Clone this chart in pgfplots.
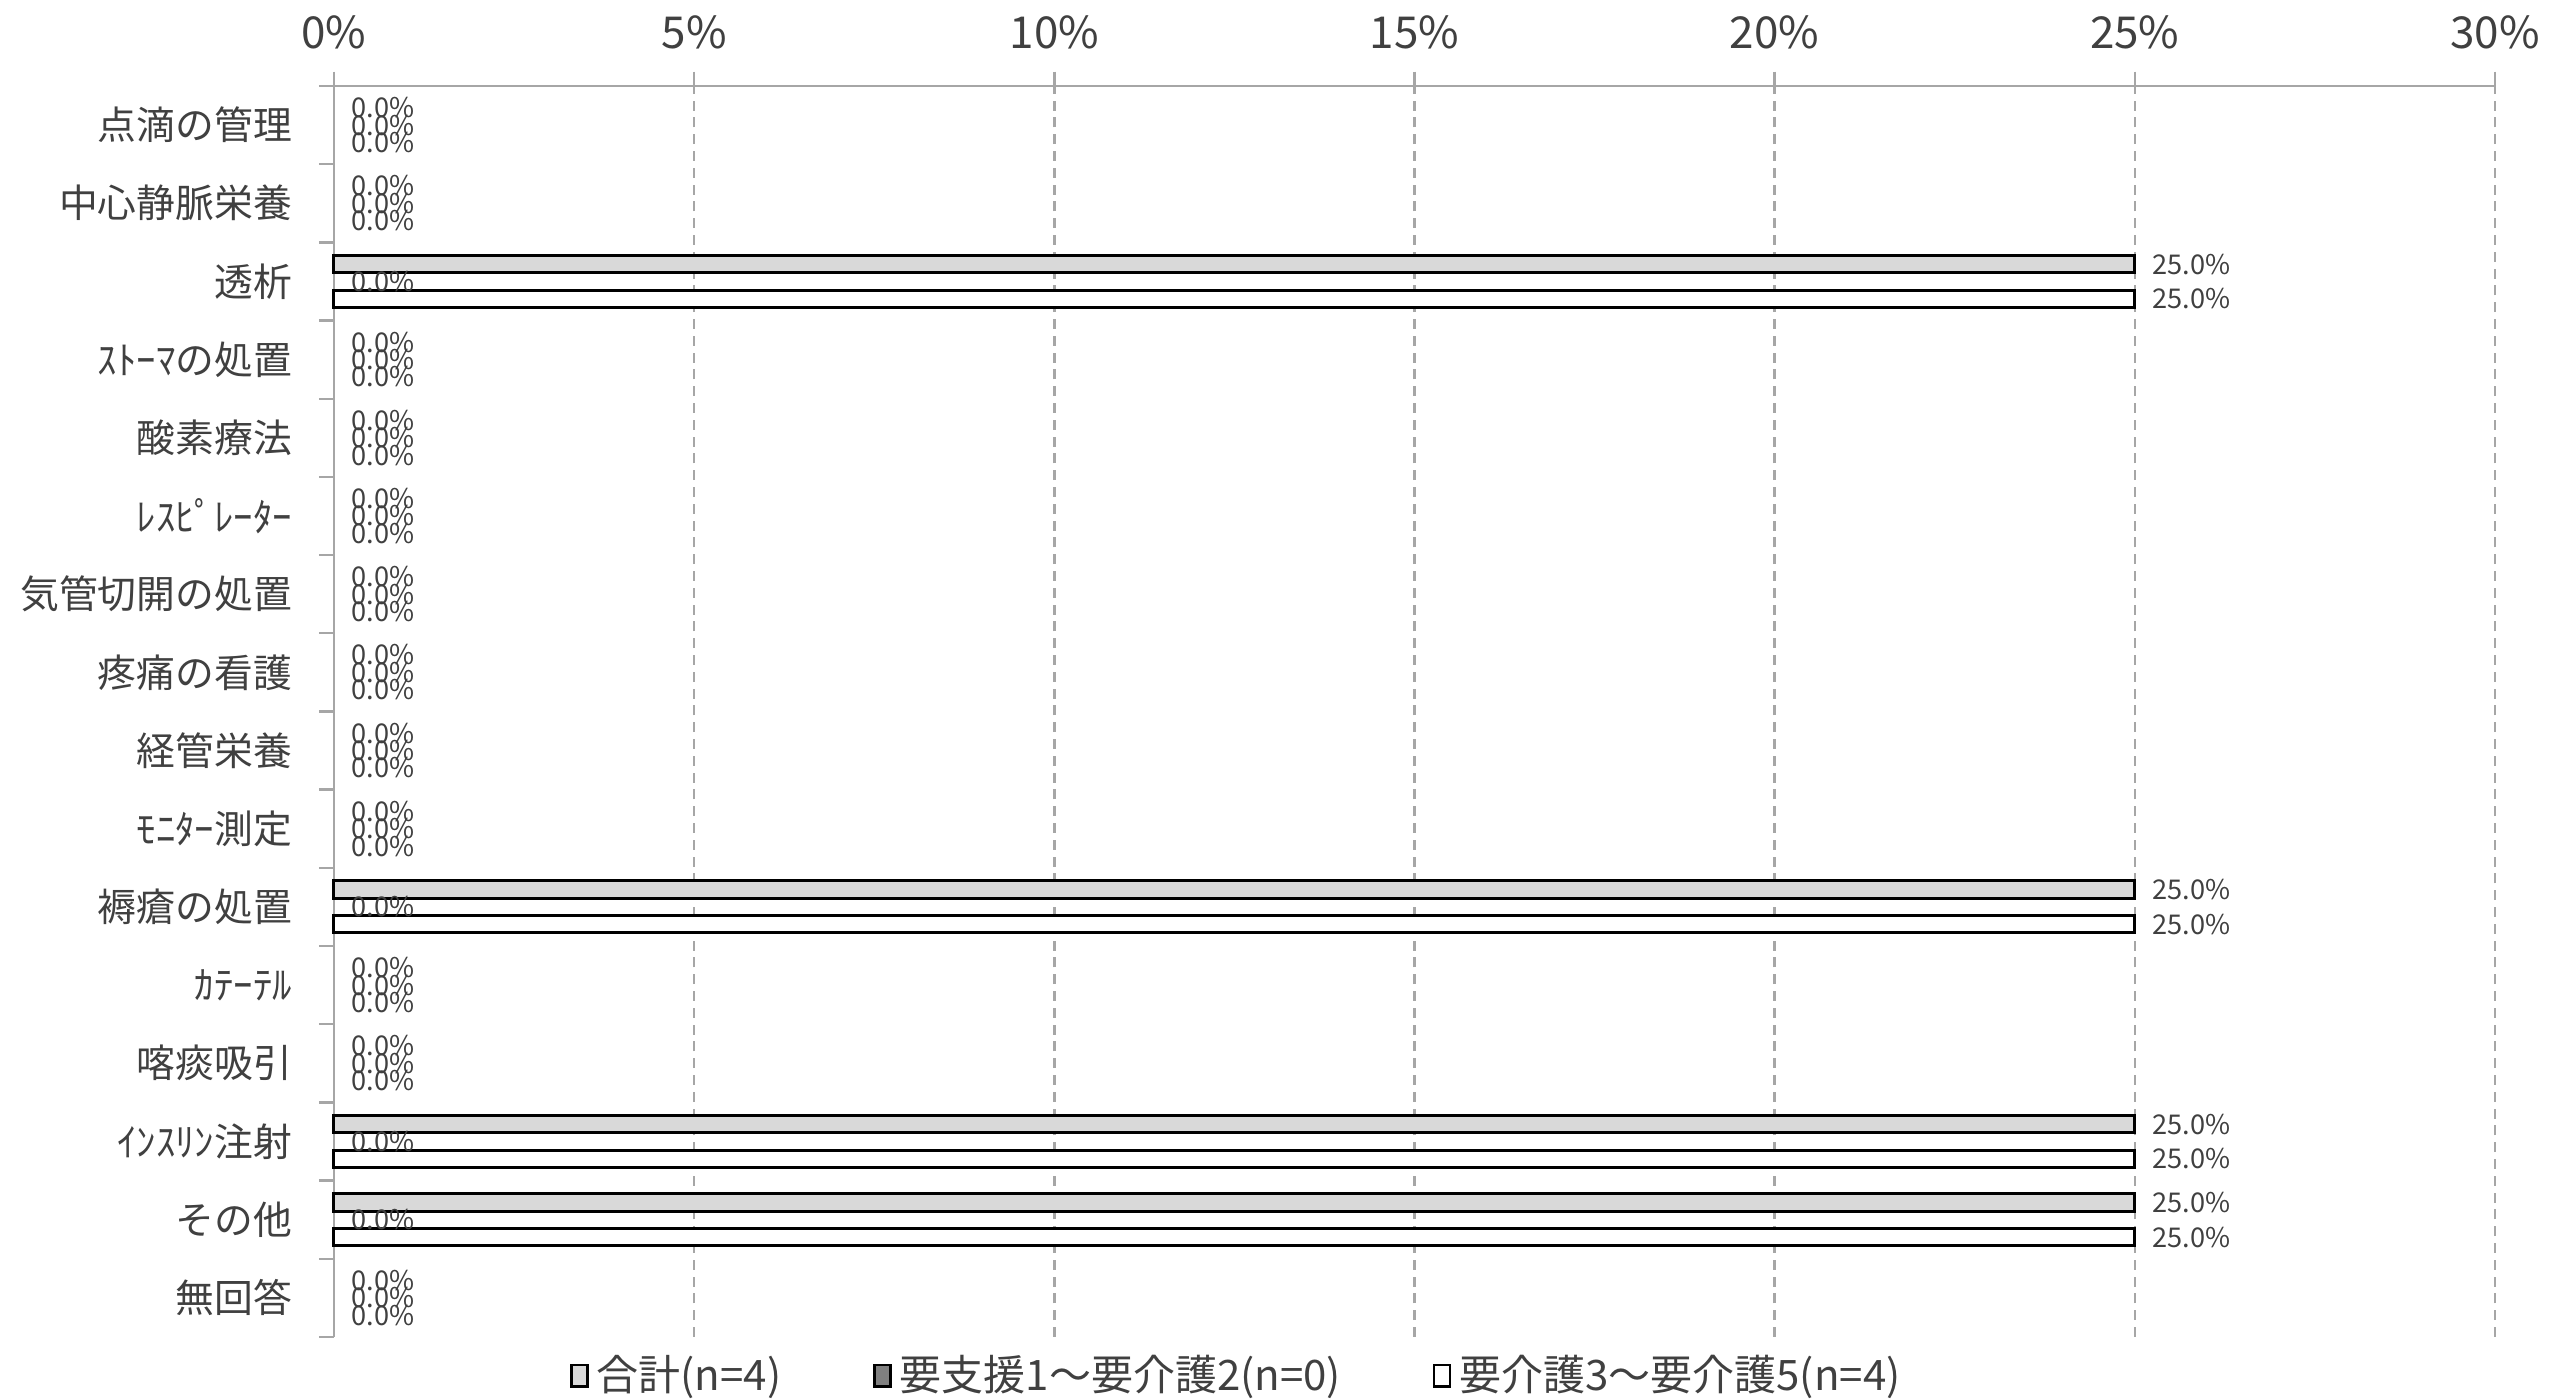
\documentclass[border=0pt]{standalone}
\usepackage{fontspec}
\setmainfont{Noto Sans CJK JP}
\usepackage{pgfplots}
\pgfplotsset{compat=1.18}
\usepackage{pgfplotstable}

\definecolor{txt}{HTML}{404040}
\definecolor{axisgray}{HTML}{A6A6A6}
\definecolor{totalfill}{HTML}{D9D9D9}
\definecolor{shienfill}{HTML}{808080}

% pos: 15 = top category (点滴の管理) ... 0 = bottom (無回答)
\pgfplotstableread{
pos total shien kaigo
15 0 0 0
14 0 0 0
13 25 0 25
12 0 0 0
11 0 0 0
10 0 0 0
9 0 0 0
8 0 0 0
7 0 0 0
6 0 0 0
5 25 0 25
4 0 0 0
3 0 0 0
2 25 0 25
1 25 0 25
0 0 0 0
}\careTable

\begin{document}
\begin{tikzpicture}
\useasboundingbox (-83.5pt,-15.5pt) rectangle (560pt,334.25pt);
\begin{axis}[
  at={(0pt,0pt)}, anchor=south west,
  scale only axis, width=540.25pt, height=312.75pt,
  xbar, bar width=0.222,
  xmin=0, xmax=30, ymin=-0.5, ymax=15.5,
  axis x line*=top, axis y line*=left,
  axis line style={axisgray, line width=0.6pt},
  xtick={0,5,...,30},
  xticklabel={\pgfmathprintnumber{\tick}\%},
  ytick={0,...,15},
  yticklabels={無回答,その他,ｲﾝｽﾘﾝ注射,喀痰吸引,ｶﾃｰﾃﾙ,褥瘡の処置,ﾓﾆﾀｰ測定,経管栄養,疼痛の看護,気管切開の処置,ﾚｽﾋﾟﾚｰﾀｰ,酸素療法,ｽﾄｰﾏの処置,透析,中心静脈栄養,点滴の管理},
  minor ytick={-0.5,0.5,...,15.5},
  tick align=outside,
  major tick length=3.6pt, minor tick length=3.75pt,
  tick style={axisgray, line width=0.6pt},
  major y tick style={draw=none},
  xmajorgrids,
  major grid style={axisgray, line width=0.6pt, dash pattern=on 2.5pt off 1.7pt},
  /pgf/number format/assume math mode=true,
  xticklabel style={font=\fontsize{11}{13}\selectfont, text=txt, yshift=2.2pt},
  yticklabel style={font=\fontsize{9.7}{12}\selectfont, text=txt, xshift=-3.4pt},
  clip=false,
  legend style={at={(0.419,-0.031)}, anchor=center, draw=none, fill=none,
    font=\fontsize{10.5}{12}\selectfont, text=txt,
    /tikz/every even column/.append style={column sep=21pt}},
  legend columns=3,
  legend image code/.code={\draw[#1, line width=0.6pt] (0pt,-2.7pt) rectangle (4pt,2.7pt);},
  every node near coord/.append style={font=\fontsize{6.8}{8}\selectfont, text=txt, inner sep=0pt, xshift=4.2pt},
]
\addlegendimage{fill=totalfill, draw=black}
\addlegendentry{合計(n=4)}
\addlegendimage{fill=shienfill, draw=black}
\addlegendentry{要支援1～要介護2(n=0)}
\addlegendimage{fill=white, draw=black}
\addlegendentry{要介護3～要介護5(n=4)}

% labels (all values, including zeros)
\addplot[xbar, bar width=0.222, bar shift=0.222, draw=none, fill=none, forget plot,
  point meta=x, nodes near coords={\pgfmathprintnumber[fixed,fixed zerofill,precision=1]{\pgfplotspointmeta}\%}]
  table[x=total, y=pos] {\careTable};
\addplot[xbar, bar width=0.222, bar shift=0, draw=none, fill=none, forget plot,
  point meta=x, nodes near coords={\pgfmathprintnumber[fixed,fixed zerofill,precision=1]{\pgfplotspointmeta}\%}]
  table[x=shien, y=pos] {\careTable};
\addplot[xbar, bar width=0.222, bar shift=-0.222, draw=none, fill=none, forget plot,
  point meta=x, nodes near coords={\pgfmathprintnumber[fixed,fixed zerofill,precision=1]{\pgfplotspointmeta}\%}]
  table[x=kaigo, y=pos] {\careTable};

% bars (non-zero values only)
\addplot[xbar, bar width=0.222, bar shift=0.222, fill=totalfill, draw=black, line width=0.75pt,
  forget plot, restrict x to domain=0.001:100]
  table[x=total, y=pos] {\careTable};
\addplot[xbar, bar width=0.222, bar shift=-0.222, fill=white, draw=black, line width=0.75pt,
  forget plot, restrict x to domain=0.001:100]
  table[x=kaigo, y=pos] {\careTable};
\end{axis}
\end{tikzpicture}
\end{document}
